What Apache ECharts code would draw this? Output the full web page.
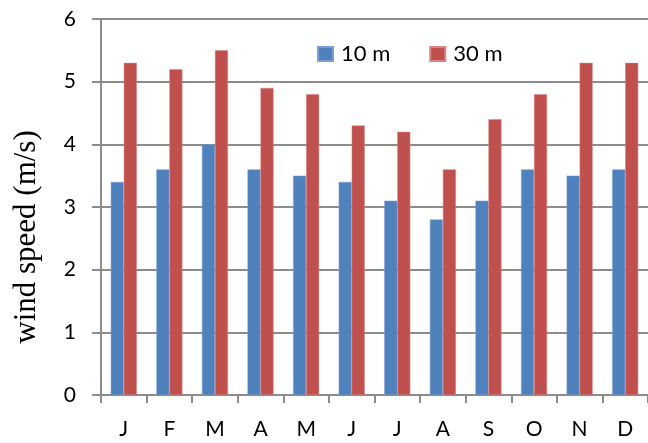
<!DOCTYPE html>
<html>
<head>
<meta charset="utf-8">
<script src="https://cdn.jsdelivr.net/npm/echarts@6/dist/echarts.min.js"></script>
<style>
  html, body { margin: 0; padding: 0; background: #fff; }
  #chart { width: 648px; height: 443px; }
</style>
</head>
<body>
<div id="chart"></div>
<script>
// Monthly mean wind speed at two measurement heights
const months = ['J', 'F', 'M', 'A', 'M', 'J', 'J', 'A', 'S', 'O', 'N', 'D'];
const speed10m = [3.4, 3.6, 4.0, 3.6, 3.5, 3.4, 3.1, 2.8, 3.1, 3.6, 3.5, 3.6];
const speed30m = [5.3, 5.2, 5.5, 4.9, 4.8, 4.3, 4.2, 3.6, 4.4, 4.8, 5.3, 5.3];
const yTicks = [0, 1, 2, 3, 4, 5, 6];

const axisGrey = '#8c8c8c';
const labelFont = 'Lato, "Open Sans", sans-serif';

const chart = echarts.init(document.getElementById('chart'), null, { renderer: 'canvas' });

chart.setOption({
  animation: false,
  backgroundColor: '#ffffff',
  grid: { left: 101, top: 19, width: 557, height: 376, containLabel: false },
  legend: {
    left: 312,
    top: 38,
    padding: 5,
    itemWidth: 15,
    itemHeight: 14,
    itemGap: 39,
    icon: 'rect',
    textStyle: { fontFamily: labelFont, fontSize: 22, color: '#000', padding: [0, 0, 0, 3] },
    data: ['10 m', '30 m']
  },
  xAxis: {
    type: 'category',
    data: months,
    boundaryGap: true,
    axisLine: { show: true, lineStyle: { color: axisGrey, width: 2 } },
    axisTick: { show: true, length: 8, lineStyle: { color: axisGrey, width: 2 } },
    axisLabel: { margin: 24, fontFamily: labelFont, fontSize: 21, color: '#000', interval: 0 }
  },
  yAxis: {
    type: 'value',
    min: yTicks[0],
    max: yTicks[yTicks.length - 1],
    interval: 1,
    axisLine: { show: true, lineStyle: { color: axisGrey, width: 2 } },
    axisTick: { show: true, length: 9, lineStyle: { color: axisGrey, width: 2 } },
    splitLine: { show: true, lineStyle: { color: axisGrey, width: 2 } },
    axisLabel: { margin: 25, fontFamily: labelFont, fontSize: 21, color: '#000' }
  },
  graphic: [{
    type: 'text',
    x: 27,
    y: 237,
    rotation: Math.PI / 2,
    style: {
      text: 'wind speed (m/s)',
      font: '31px "Liberation Serif", "DejaVu Serif", serif',
      fill: '#000',
      align: 'center',
      verticalAlign: 'middle'
    }
  }],
  series: [
    {
      name: '10 m',
      type: 'bar',
      data: speed10m,
      barWidth: 13,
      barGap: '0%',
      itemStyle: { color: '#4f81bd', borderColor: '#7a9fd0', borderWidth: 0.5 }
    },
    {
      name: '30 m',
      type: 'bar',
      data: speed30m,
      barWidth: 13,
      barGap: '0%',
      itemStyle: { color: '#c0504d', borderColor: '#d98482', borderWidth: 0.5 }
    }
  ]
});
</script>
</body>
</html>
